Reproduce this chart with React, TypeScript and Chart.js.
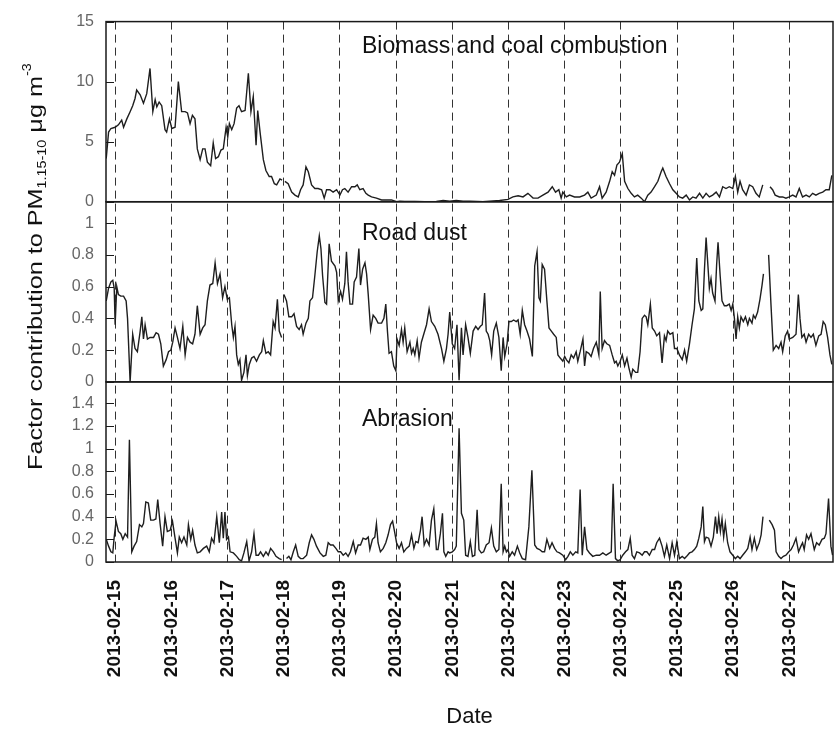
import React, { useEffect, useRef } from 'react';
import { Chart, registerables } from 'chart.js';

Chart.register(...registerables);

// x values are hours since 2013-02-15 00:00
const dateTickHours = [0, 24, 48, 72, 96, 120, 144, 168, 192, 216, 240, 264, 288];
const dateLabels = [
  '2013-02-15', '2013-02-16', '2013-02-17', '2013-02-18', '2013-02-19', '2013-02-20', '2013-02-21',
  '2013-02-22', '2013-02-23', '2013-02-24', '2013-02-25', '2013-02-26', '2013-02-27',
];
const panelTitles = ['Biomass and coal combustion', 'Road dust', 'Abrasion'];

const biomass: Array<[number, number | null]> = [
  [-3.8, 3.6], [-2.8, 5.8], [-1.8, 6.1], [0, 6.2], [1.4, 6.4], [2.8, 6.8], [3.6, 6.2], [5.0, 6.9], [6.4, 7.5], [7.5, 8.0],
  [8.5, 8.6], [9.2, 9.3], [10.7, 8.9], [12.1, 8.2], [13.5, 9.0], [14.9, 11.1], [16.1, 7.5], [17.1, 8.5], [17.8, 7.9], [18.8, 8.3],
  [19.9, 8.0], [21.3, 6.0], [22.0, 5.8], [23.2, 6.9], [24.2, 6.1], [25.6, 6.2], [27.0, 10.0], [28.4, 7.5], [29.9, 7.5], [30.9, 7.4],
  [32.0, 6.5], [33.0, 7.2], [34.1, 6.9], [35.1, 4.4], [36.3, 3.5], [37.4, 4.4], [38.4, 4.4], [39.4, 3.3], [40.8, 3.0], [41.9, 4.9],
  [42.9, 3.6], [44.1, 3.75], [45.2, 4.3], [46.2, 4.4], [47.4, 6.2], [48.1, 5.4], [48.8, 6.5], [49.8, 6.0], [50.8, 6.5], [51.9, 7.8],
  [52.9, 8.0], [54.0, 7.5], [55.5, 7.6], [56.9, 10.7], [58.0, 7.5], [59.0, 8.75], [60.2, 4.7], [60.9, 7.6], [61.9, 5.8], [63.3, 3.5],
  [64.4, 2.6], [65.8, 2.1], [66.8, 2.1], [68.0, 1.5], [69.0, 1.4], [70.4, 1.9], [71.3, 1.8], [71.8, null], [72.5, 1.7], [73.9, 1.5],
  [75.4, 0.8], [76.8, 0.55], [78.2, 0.4], [79.2, 1.0], [80.3, 1.4], [81.5, 2.9], [82.5, 2.5], [83.9, 1.4], [85.3, 1.1], [86.7, 1.1],
  [88.2, 1.0], [89.3, 0.3], [90.3, 1.0], [91.7, 1.0], [93.1, 0.8], [94.6, 1.0], [96.0, 0.55], [97.1, 1.0], [98.1, 1.1], [99.5, 0.8],
  [101.0, 1.25], [102.4, 1.25], [103.4, 1.4], [104.5, 1.0], [105.9, 1.1], [107.1, 0.7], [108.1, 0.55], [109.5, 0.4], [111.6, 0.3], [113.8, 0.15],
  [115.9, 0.15], [118.0, 0.15], [120.2, 0.0], [121.6, 0.05], [123.7, 0.02], [128.0, 0.02], [132.2, 0.0], [137.2, 0.02], [140.1, 0.1], [142.9, 0.05],
  [145.7, 0.1], [148.6, 0.05], [151.4, 0.05], [157.1, 0.0], [160.0, 0.05], [164.2, 0.1], [167.8, 0.2], [169.9, 0.4], [172.1, 0.5], [174.2, 0.4],
  [176.3, 0.7], [178.5, 0.3], [180.6, 0.3], [182.7, 0.55], [184.9, 0.8], [186.7, 1.25], [188.1, 0.8], [189.5, 1.0], [190.5, 0.3], [191.2, 0.8],
  [192.7, 0.4], [194.1, 0.55], [196.2, 0.4], [198.4, 0.4], [200.5, 0.55], [201.9, 0.8], [203.3, 0.3], [205.5, 0.55], [206.9, 1.25], [208.0, 0.3],
  [209.7, 0.8], [211.2, 1.7], [212.3, 2.5], [213.3, 2.2], [214.3, 3.05], [215.4, 3.3], [216.6, 4.0], [217.6, 1.7], [219.0, 1.1], [220.4, 0.7],
  [221.8, 0.4], [223.2, 0.55], [224.7, 0.3], [226.1, 0.0], [227.5, 0.55], [228.9, 0.8], [230.4, 1.25], [231.8, 1.7], [233.2, 2.5], [233.9, 2.8],
  [235.3, 2.1], [236.8, 1.5], [238.2, 1.0], [239.6, 0.7], [241.0, 0.4], [242.4, 0.3], [243.9, 0.55], [245.3, 0.15], [246.7, 0.4], [248.1, 0.3],
  [249.6, 0.7], [251.0, 0.3], [252.4, 0.7], [253.8, 0.4], [255.2, 0.55], [256.7, 0.8], [258.1, 0.4], [259.5, 1.25], [260.9, 1.1], [262.3, 1.25],
  [263.8, 1.1], [264.9, 2.1], [265.9, 0.8], [266.9, 1.7], [268.0, 1.0], [269.5, 0.55], [270.9, 1.4], [272.3, 1.25], [273.7, 0.7], [275.1, 0.4],
  [276.6, 1.4], [277.8, null], [279.7, 1.25], [280.8, 1.0], [281.9, 0.55], [283.7, 0.4], [285.1, 0.4], [286.5, 0.3], [287.9, 0.4], [289.4, 0.55],
  [290.8, 0.4], [292.2, 1.1], [293.6, 0.4], [295.1, 0.55], [296.5, 0.4], [297.9, 0.7], [299.3, 0.55], [300.7, 0.7], [302.2, 0.8], [303.6, 1.0],
  [305.0, 1.0], [306.1, 2.2],
];

const roadDust: Array<[number, number | null]> = [
  [-3.8, 0.51], [-2.8, 0.59], [-1.8, 0.63], [-1.0, 0.64], [-0.4, 0.59], [0, 0.36], [0.7, 0.60], [1.4, 0.55], [2.4, 0.54], [3.6, 0.54],
  [4.7, 0.51], [5.3, 0.40], [6.4, 0.0], [7.5, 0.30], [8.5, 0.21], [9.5, 0.19], [10.7, 0.32], [11.4, 0.41], [12.1, 0.27], [12.8, 0.36],
  [13.8, 0.27], [14.9, 0.28], [16.4, 0.28], [17.5, 0.31], [18.5, 0.30], [19.5, 0.24], [20.6, 0.10], [21.8, 0.14], [22.8, 0.19], [23.8, 0.20],
  [24.6, 0.25], [25.6, 0.34], [26.6, 0.28], [27.7, 0.21], [28.9, 0.35], [29.9, 0.17], [30.9, 0.28], [32.0, 0.25], [33.1, 0.24], [34.1, 0.30],
  [35.1, 0.48], [36.3, 0.30], [37.4, 0.34], [38.4, 0.36], [39.4, 0.51], [40.5, 0.61], [41.7, 0.62], [42.7, 0.75], [43.7, 0.62], [44.8, 0.68],
  [45.9, 0.53], [46.9, 0.60], [47.9, 0.52], [48.8, 0.53], [49.8, 0.36], [50.5, 0.28], [51.2, 0.35], [51.9, 0.17], [52.6, 0.11], [53.3, 0.14],
  [54.0, 0.01], [55.0, 0.06], [55.9, 0.17], [56.5, 0.04], [57.3, 0.11], [58.3, 0.15], [59.3, 0.16], [60.4, 0.13], [61.6, 0.17], [62.6, 0.19],
  [63.3, 0.26], [64.4, 0.18], [65.4, 0.19], [66.4, 0.17], [67.5, 0.38], [68.3, 0.34], [69.3, 0.52], [70.1, 0.32], [71.1, 0.28], [71.8, null],
  [72.1, 0.55], [73.2, 0.51], [74.2, 0.41], [75.4, 0.41], [76.4, 0.43], [77.5, 0.35], [78.6, 0.33], [79.6, 0.36], [80.3, 0.30], [81.5, 0.37],
  [82.5, 0.40], [83.2, 0.51], [84.3, 0.53], [85.3, 0.67], [86.3, 0.82], [87.2, 0.92], [87.9, 0.84], [88.6, 0.67], [89.6, 0.50], [90.3, 0.49],
  [91.4, 0.87], [92.4, 0.76], [93.9, 0.73], [94.6, 0.69], [95.3, 0.51], [96.3, 0.57], [97.1, 0.52], [98.1, 0.62], [98.8, 0.82], [99.5, 0.63],
  [100.3, 0.49], [101.4, 0.49], [102.1, 0.63], [103.1, 0.66], [104.1, 0.84], [104.8, 0.61], [105.7, 0.71], [106.7, 0.75], [107.4, 0.68], [108.1, 0.55],
  [109.1, 0.33], [110.2, 0.42], [111.3, 0.40], [112.3, 0.37], [113.8, 0.37], [114.8, 0.40], [115.6, 0.49], [116.3, 0.32], [117.0, 0.18], [118.0, 0.19],
  [119.0, 0.10], [119.9, 0.07], [120.4, 0.27], [121.3, 0.23], [122.3, 0.33], [123.0, 0.25], [123.7, 0.34], [124.7, 0.19], [125.9, 0.25], [126.6, 0.18],
  [127.3, 0.21], [128.0, 0.17], [129.0, 0.26], [129.8, 0.15], [130.8, 0.25], [131.8, 0.30], [133.0, 0.36], [134.1, 0.46], [135.1, 0.38], [136.5, 0.35],
  [137.9, 0.30], [139.4, 0.21], [140.4, 0.13], [141.5, 0.21], [142.2, 0.30], [142.9, 0.44], [144.0, 0.24], [145.0, 0.21], [146.0, 0.36], [146.9, 0.01],
  [147.9, 0.34], [148.6, 0.17], [149.7, 0.36], [150.7, 0.28], [151.7, 0.18], [152.9, 0.32], [154.0, 0.35], [155.0, 0.33], [156.0, 0.35], [156.8, 0.36],
  [157.8, 0.56], [158.5, 0.32], [159.3, 0.30], [160.0, 0.26], [160.8, 0.17], [161.7, 0.32], [162.8, 0.37], [163.9, 0.28], [164.9, 0.07], [165.7, 0.28],
  [166.4, 0.16], [167.4, 0.24], [168.2, 0.38], [169.2, 0.38], [170.2, 0.39], [171.3, 0.38], [172.1, 0.39], [173.0, 0.30], [173.9, 0.45], [174.9, 0.36],
  [175.9, 0.32], [177.0, 0.27], [178.2, 0.16], [179.2, 0.73], [180.2, 0.82], [181.0, 0.53], [181.6, 0.51], [182.4, 0.74], [183.4, 0.71], [184.4, 0.51],
  [185.3, 0.34], [186.3, 0.32], [187.3, 0.30], [188.4, 0.28], [189.1, 0.17], [190.1, 0.15], [191.2, 0.13], [192.0, 0.16], [192.7, 0.14], [193.8, 0.12],
  [194.8, 0.17], [195.8, 0.15], [196.9, 0.19], [197.6, 0.13], [198.6, 0.19], [199.8, 0.27], [200.5, 0.10], [201.2, 0.19], [202.3, 0.18], [203.3, 0.16],
  [204.3, 0.21], [205.5, 0.25], [206.6, 0.17], [207.2, 0.57], [208.0, 0.21], [209.0, 0.26], [210.0, 0.24], [211.2, 0.23], [212.3, 0.17], [213.3, 0.12],
  [214.0, 0.13], [214.7, 0.10], [215.7, 0.13], [216.6, 0.17], [217.6, 0.10], [218.6, 0.15], [219.4, 0.09], [220.4, 0.03], [221.1, 0.08], [222.3, 0.06],
  [223.2, 0.06], [224.2, 0.19], [225.1, 0.40], [226.1, 0.42], [226.8, 0.41], [227.5, 0.36], [228.6, 0.49], [229.4, 0.34], [230.4, 0.32], [231.3, 0.29],
  [232.5, 0.31], [233.6, 0.12], [234.6, 0.29], [235.3, 0.26], [236.0, 0.32], [237.0, 0.30], [238.2, 0.31], [238.9, 0.21], [239.9, 0.21], [241.0, 0.17],
  [242.2, 0.14], [243.2, 0.20], [244.1, 0.13], [245.3, 0.24], [246.4, 0.36], [247.4, 0.46], [248.4, 0.78], [249.3, 0.51], [250.3, 0.45], [251.0, 0.46],
  [251.7, 0.71], [252.4, 0.91], [253.1, 0.75], [253.8, 0.59], [254.5, 0.65], [255.2, 0.56], [256.2, 0.51], [256.9, 0.74], [257.5, 0.88], [258.4, 0.67],
  [259.2, 0.51], [260.2, 0.48], [261.2, 0.48], [262.3, 0.49], [263.1, 0.45], [263.8, 0.49], [264.5, 0.40], [265.2, 0.27], [265.9, 0.41], [266.6, 0.34],
  [267.3, 0.41], [268.3, 0.38], [269.2, 0.41], [270.2, 0.36], [270.9, 0.40], [272.0, 0.37], [272.6, 0.42], [273.4, 0.40], [274.4, 0.44], [275.4, 0.52],
  [276.3, 0.61], [276.9, 0.68], [278.0, null], [279.1, 0.80], [280.1, 0.49], [281.1, 0.20], [282.3, 0.23], [283.4, 0.21], [284.4, 0.25], [285.1, 0.19],
  [286.2, 0.29], [287.2, 0.32], [287.9, 0.27], [289.4, 0.28], [290.8, 0.30], [291.8, 0.55], [292.5, 0.40], [293.3, 0.28], [294.3, 0.30], [295.1, 0.25],
  [296.2, 0.30], [297.2, 0.28], [298.2, 0.30], [299.3, 0.23], [300.5, 0.29], [301.5, 0.30], [302.4, 0.38], [303.3, 0.36], [304.3, 0.28], [305.3, 0.17],
  [306.1, 0.11],
];

const abrasion: Array<[number, number | null]> = [
  [-3.8, 0.20], [-2.8, 0.14], [-1.8, 0.09], [-1.0, 0.08], [-0.4, 0.22], [0.4, 0.36], [1.4, 0.27], [2.4, 0.25], [3.3, 0.20], [4.3, 0.25],
  [5.3, 0.22], [6.1, 1.08], [7.1, 0.09], [8.1, 0.14], [9.2, 0.18], [10.4, 0.33], [11.4, 0.31], [12.1, 0.34], [13.1, 0.53], [14.2, 0.52],
  [15.2, 0.37], [16.4, 0.37], [17.4, 0.38], [18.2, 0.55], [19.2, 0.34], [20.3, 0.14], [21.3, 0.40], [22.3, 0.27], [23.5, 0.28], [24.5, 0.36],
  [25.6, 0.21], [26.6, 0.08], [27.4, 0.22], [28.4, 0.17], [29.4, 0.22], [30.6, 0.15], [31.3, 0.33], [32.3, 0.20], [33.1, 0.28], [34.1, 0.15],
  [35.1, 0.08], [36.3, 0.09], [37.7, 0.12], [39.1, 0.14], [40.2, 0.09], [41.2, 0.21], [42.2, 0.17], [43.4, 0.40], [44.5, 0.17], [45.5, 0.44],
  [46.2, 0.21], [46.9, 0.44], [47.6, 0.20], [48.4, 0.22], [49.1, 0.09], [50.5, 0.08], [51.9, 0.05], [53.0, 0.02], [54.0, 0.01], [55.0, 0.08],
  [56.2, 0.18], [57.2, 0.01], [58.3, 0.09], [59.3, 0.25], [60.2, 0.06], [61.2, 0.06], [62.1, 0.09], [63.3, 0.05], [64.4, 0.09], [65.4, 0.06],
  [66.4, 0.12], [67.6, 0.09], [68.7, 0.05], [70.1, 0.03], [71.1, 0.02], [71.8, null], [73.2, 0.03], [74.2, 0.05], [75.1, 0.02], [76.1, 0.09],
  [77.1, 0.15], [78.2, 0.05], [79.2, 0.03], [80.3, 0.03], [81.8, 0.06], [82.9, 0.17], [83.9, 0.24], [84.9, 0.20], [86.0, 0.14], [87.5, 0.08],
  [88.9, 0.05], [90.0, 0.06], [91.0, 0.17], [92.0, 0.15], [93.1, 0.15], [94.3, 0.12], [95.3, 0.09], [96.3, 0.09], [97.4, 0.06], [98.5, 0.08],
  [99.5, 0.05], [100.5, 0.09], [101.7, 0.18], [102.7, 0.08], [103.8, 0.15], [104.8, 0.15], [105.9, 0.21], [107.1, 0.20], [108.1, 0.22], [108.8, 0.11],
  [109.9, 0.20], [110.9, 0.22], [111.6, 0.34], [112.3, 0.17], [113.3, 0.09], [114.5, 0.12], [115.6, 0.17], [116.6, 0.24], [117.6, 0.33], [118.5, 0.36],
  [119.5, 0.25], [120.2, 0.17], [121.3, 0.12], [122.3, 0.17], [123.3, 0.09], [124.4, 0.12], [125.6, 0.14], [126.6, 0.24], [127.6, 0.12], [128.4, 0.18],
  [129.4, 0.17], [130.4, 0.28], [131.1, 0.40], [132.0, 0.15], [133.0, 0.20], [134.1, 0.15], [135.1, 0.37], [136.1, 0.47], [137.2, 0.11], [137.9, 0.11],
  [138.9, 0.25], [139.8, 0.43], [140.4, 0.09], [141.2, 0.05], [142.2, 0.09], [142.9, 0.08], [144.0, 0.09], [145.0, 0.11], [145.7, 0.14], [146.9, 1.18],
  [147.9, 0.43], [148.9, 0.37], [149.7, 0.06], [150.7, 0.05], [151.7, 0.18], [152.6, 0.05], [153.6, 0.06], [154.6, 0.46], [155.4, 0.11], [156.4, 0.08],
  [157.4, 0.09], [158.5, 0.15], [159.7, 0.17], [160.7, 0.30], [161.7, 0.14], [162.8, 0.09], [163.9, 0.11], [164.9, 0.69], [165.7, 0.09], [166.4, 0.14],
  [167.1, 0.09], [167.8, 0.11], [168.5, 0.05], [169.6, 0.09], [170.6, 0.06], [171.8, 0.14], [172.8, 0.08], [173.9, 0.03], [175.3, 0.02], [176.7, 0.31],
  [178.0, 0.81], [179.2, 0.15], [180.2, 0.12], [181.3, 0.11], [182.4, 0.09], [183.4, 0.09], [184.4, 0.20], [185.6, 0.12], [186.6, 0.17], [187.7, 0.12],
  [188.7, 0.09], [189.8, 0.08], [191.2, 0.06], [192.4, 0.02], [193.4, 0.05], [194.4, 0.09], [195.5, 0.06], [196.7, 0.09], [197.6, 0.08], [198.6, 0.64],
  [199.5, 0.06], [200.5, 0.31], [201.5, 0.11], [202.6, 0.08], [204.0, 0.05], [205.5, 0.06], [206.9, 0.06], [208.3, 0.08], [209.7, 0.06], [211.2, 0.08],
  [211.9, 0.09], [212.7, 0.69], [213.7, 0.03], [214.7, 0.01], [215.7, 0.02], [216.8, 0.06], [218.0, 0.09], [219.0, 0.11], [220.0, 0.21], [220.8, 0.06],
  [221.8, 0.03], [222.8, 0.09], [224.0, 0.08], [225.1, 0.06], [226.1, 0.09], [227.1, 0.09], [228.2, 0.06], [229.4, 0.11], [230.4, 0.11], [231.3, 0.17],
  [232.5, 0.21], [233.6, 0.14], [234.6, 0.05], [235.6, 0.15], [236.8, 0.03], [237.9, 0.17], [238.9, 0.06], [239.9, 0.18], [241.0, 0.03], [242.2, 0.05],
  [243.2, 0.03], [244.1, 0.05], [245.3, 0.08], [246.4, 0.09], [247.4, 0.11], [248.4, 0.14], [249.3, 0.21], [250.3, 0.31], [251.0, 0.49], [251.7, 0.18],
  [252.4, 0.22], [253.5, 0.21], [254.5, 0.14], [255.5, 0.22], [256.4, 0.40], [257.1, 0.25], [257.8, 0.40], [258.5, 0.27], [259.2, 0.38], [259.9, 0.22],
  [260.6, 0.34], [261.6, 0.17], [262.6, 0.09], [263.8, 0.06], [264.9, 0.03], [265.9, 0.05], [266.9, 0.03], [268.0, 0.06], [269.2, 0.09], [270.2, 0.12],
  [271.2, 0.22], [272.0, 0.11], [273.0, 0.21], [274.0, 0.11], [275.1, 0.17], [275.9, 0.24], [276.7, 0.40], [278.0, null], [279.4, 0.37], [280.6, 0.33],
  [281.6, 0.28], [282.3, 0.09], [283.4, 0.05], [284.4, 0.03], [285.4, 0.05], [286.5, 0.06], [287.7, 0.09], [288.7, 0.11], [289.7, 0.15], [290.8, 0.21],
  [291.9, 0.09], [292.9, 0.14], [293.6, 0.17], [294.3, 0.11], [295.3, 0.24], [296.2, 0.20], [297.2, 0.25], [297.9, 0.18], [298.6, 0.11], [299.6, 0.17],
  [300.7, 0.15], [301.9, 0.20], [302.9, 0.21], [303.6, 0.25], [304.7, 0.56], [305.7, 0.14], [306.4, 0.06],
];

const X_MIN = -3.9;
const X_MAX = 306.6;

const FONT = '"Liberation Sans", Arial, Helvetica, sans-serif';
const PANEL_IDS = ['yB', 'yR', 'yA'];
const TITLE_BASELINE_OFFSETS = [31, 38, 44];

const toPoints = (arr: Array<[number, number | null]>) => arr.map(([x, y]) => ({ x, y }));
const fmt = (v: number) => String(Number(Number(v).toFixed(2)));

const decorPlugin = {
  id: 'decor',
  afterDraw(chart: any) {
    const ctx: CanvasRenderingContext2D = chart.ctx;
    const area = chart.chartArea;
    ctx.save();
    PANEL_IDS.forEach((id, i) => {
      const s = chart.scales[id];
      // panel frame
      ctx.strokeStyle = '#1a1a1a';
      ctx.lineWidth = 1.5;
      ctx.setLineDash([]);
      ctx.strokeRect(area.left, s.top, area.right - area.left, s.bottom - s.top);
      // inward tick marks
      ctx.lineWidth = 1;
      ctx.beginPath();
      s.ticks.forEach((t: any) => {
        const y = Math.round(s.getPixelForValue(t.value)) + 0.5;
        ctx.moveTo(area.left, y);
        ctx.lineTo(area.left + 8, y);
      });
      ctx.stroke();
      // panel title
      ctx.fillStyle = '#111';
      ctx.font = `23px ${FONT}`;
      ctx.textAlign = 'left';
      ctx.textBaseline = 'alphabetic';
      ctx.fillText(panelTitles[i], 362, s.top + TITLE_BASELINE_OFFSETS[i]);
    });

    // y-axis title with subscript / superscript
    ctx.translate(42, 470);
    ctx.rotate(-Math.PI / 2);
    ctx.scale(1.2, 1);
    ctx.fillStyle = '#111';
    ctx.textAlign = 'left';
    ctx.textBaseline = 'alphabetic';
    const parts = [
      { t: 'Factor contribution to PM', f: 21, dy: 0 },
      { t: '1.15-10', f: 12, dy: 4 },
      { t: ' \u03bcg m', f: 21, dy: 0 },
      { t: '-3', f: 12, dy: -11 },
    ];
    let x = 0;
    parts.forEach((p) => {
      ctx.font = `${p.f}px ${FONT}`;
      ctx.fillText(p.t, x, p.dy);
      x += ctx.measureText(p.t).width;
    });
    ctx.restore();
  },
};

export default function App() {
  const canvasRef = useRef<HTMLCanvasElement | null>(null);

  useEffect(() => {
    if (!canvasRef.current) return;
    Chart.defaults.font.family = FONT;

    const yCommon = (min: number, max: number, step: number) => ({
      type: 'linear' as const,
      position: 'left' as const,
      stack: 'panels',
      stackWeight: 1,
      min,
      max,
      grid: { display: false, drawTicks: false },
      border: { display: false },
      ticks: {
        stepSize: step,
        includeBounds: false,
        autoSkip: false,
        padding: 12,
        color: '#666',
        font: { size: 16, family: FONT },
        callback: (v: any) => fmt(v),
      },
      afterFit: (s: any) => {
        s.width = 106;
      },
    });

    const lineStyle = {
      borderColor: '#1e1e1e',
      borderWidth: 1.4,
      pointRadius: 0,
      tension: 0,
      spanGaps: false,
      fill: false,
    };

    const chart = new Chart(canvasRef.current, {
      type: 'line',
      data: {
        datasets: [
          { label: panelTitles[0], data: toPoints(biomass), yAxisID: 'yB', ...lineStyle },
          { label: panelTitles[1], data: toPoints(roadDust), yAxisID: 'yR', ...lineStyle },
          { label: panelTitles[2], data: toPoints(abrasion), yAxisID: 'yA', ...lineStyle },
        ],
      },
      options: {
        animation: false,
        responsive: false,
        maintainAspectRatio: false,
        devicePixelRatio: 1,
        layout: { padding: { top: 17, right: 4, bottom: 0, left: 0 } },
        plugins: {
          legend: { display: false },
          tooltip: { enabled: false },
          title: { display: false },
        },
        scales: {
          x: {
            type: 'linear',
            position: 'bottom',
            min: X_MIN,
            max: X_MAX,
            afterBuildTicks: (s: any) => {
              s.ticks = dateTickHours.map((v) => ({ value: v }));
            },
            afterFit: (s: any) => {
              s.height = 171;
            },
            grid: { color: '#333', lineWidth: 1, drawTicks: false },
            border: { display: false, dash: [8, 5] },
            ticks: {
              autoSkip: false,
              maxRotation: 90,
              minRotation: 90,
              padding: 18,
              color: '#111',
              font: { size: 19, weight: 'bold', family: FONT },
              callback: (_v: any, i: number) => dateLabels[i],
            },
            title: {
              display: true,
              text: 'Date',
              color: '#111',
              font: { size: 22, family: FONT },
              padding: { top: 0, bottom: 3 },
            },
          },
          yA: yCommon(0, 1.59, 0.2),
          yR: yCommon(0, 1.135, 0.2),
          yB: yCommon(0, 15, 5),
        },
      } as any,
      plugins: [decorPlugin],
    });

    return () => chart.destroy();
  }, []);

  return (
    <div style={{ position: 'absolute', left: 0, top: 0, width: 837, height: 733, background: '#fff' }}>
      <canvas ref={canvasRef} width={837} height={733} style={{ display: 'block' }} />
    </div>
  );
}
